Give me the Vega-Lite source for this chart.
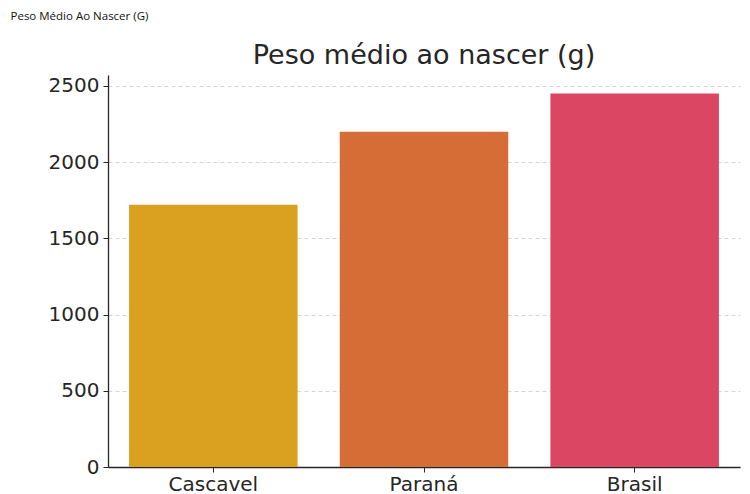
{
  "$schema": "https://vega.github.io/schema/vega-lite/v6.json",
  "autosize": {"type": "none"},
  "width": 632,
  "height": 392,
  "padding": {"left": 108, "top": 75, "right": 10, "bottom": 27},
  "background": "white",
  "config": {"view": {"stroke": null}, "font": "DejaVu Sans"},
  "title": {
    "text": "Peso médio ao nascer (g)",
    "fontSize": 27,
    "fontWeight": "normal",
    "color": "#262626",
    "font": "DejaVu Sans",
    "anchor": "middle",
    "offset": -60
  },
  "data": {
    "values": [
      {"local": "Cascavel", "peso": 1720},
      {"local": "Paraná", "peso": 2200},
      {"local": "Brasil", "peso": 2450}
    ]
  },
  "mark": {"type": "bar"},
  "encoding": {
    "x": {
      "field": "local",
      "type": "nominal",
      "sort": null,
      "scale": {"paddingInner": 0.2, "paddingOuter": 0.1},
      "axis": {
        "title": null,
        "labelAngle": 0,
        "labelFontSize": 20,
        "labelColor": "#262626",
        "labelPadding": 2,
        "domainColor": "#262626",
        "domainWidth": 1.3,
        "tickColor": "#262626",
        "tickSize": 5,
        "grid": false
      }
    },
    "y": {
      "field": "peso",
      "type": "quantitative",
      "scale": {"domain": [0, 2572], "nice": false},
      "axis": {
        "values": [0, 500, 1000, 1500, 2000, 2500],
        "format": "d",
        "title": "Peso Médio Ao Nascer (G)",
        "titleAngle": 0,
        "titleFont": "Open Sans",
        "titleFontSize": 11.5,
        "titleFontWeight": 500,
        "titleColor": "#111111",
        "titleAlign": "left",
        "titleBaseline": "alphabetic",
        "titleX": -98,
        "titleY": -56,
        "labelFontSize": 20,
        "labelColor": "#262626",
        "labelPadding": 4,
        "domainColor": "#262626",
        "domainWidth": 1.3,
        "tickColor": "#262626",
        "tickSize": 5,
        "grid": true,
        "gridColor": "#cccccc",
        "gridDash": [4, 3],
        "gridWidth": 0.8
      }
    },
    "color": {
      "field": "local",
      "type": "nominal",
      "sort": null,
      "scale": {"domain": ["Cascavel", "Paraná", "Brasil"], "range": ["#DAA020", "#D66D37", "#DB4663"]},
      "legend": null
    }
  }
}
